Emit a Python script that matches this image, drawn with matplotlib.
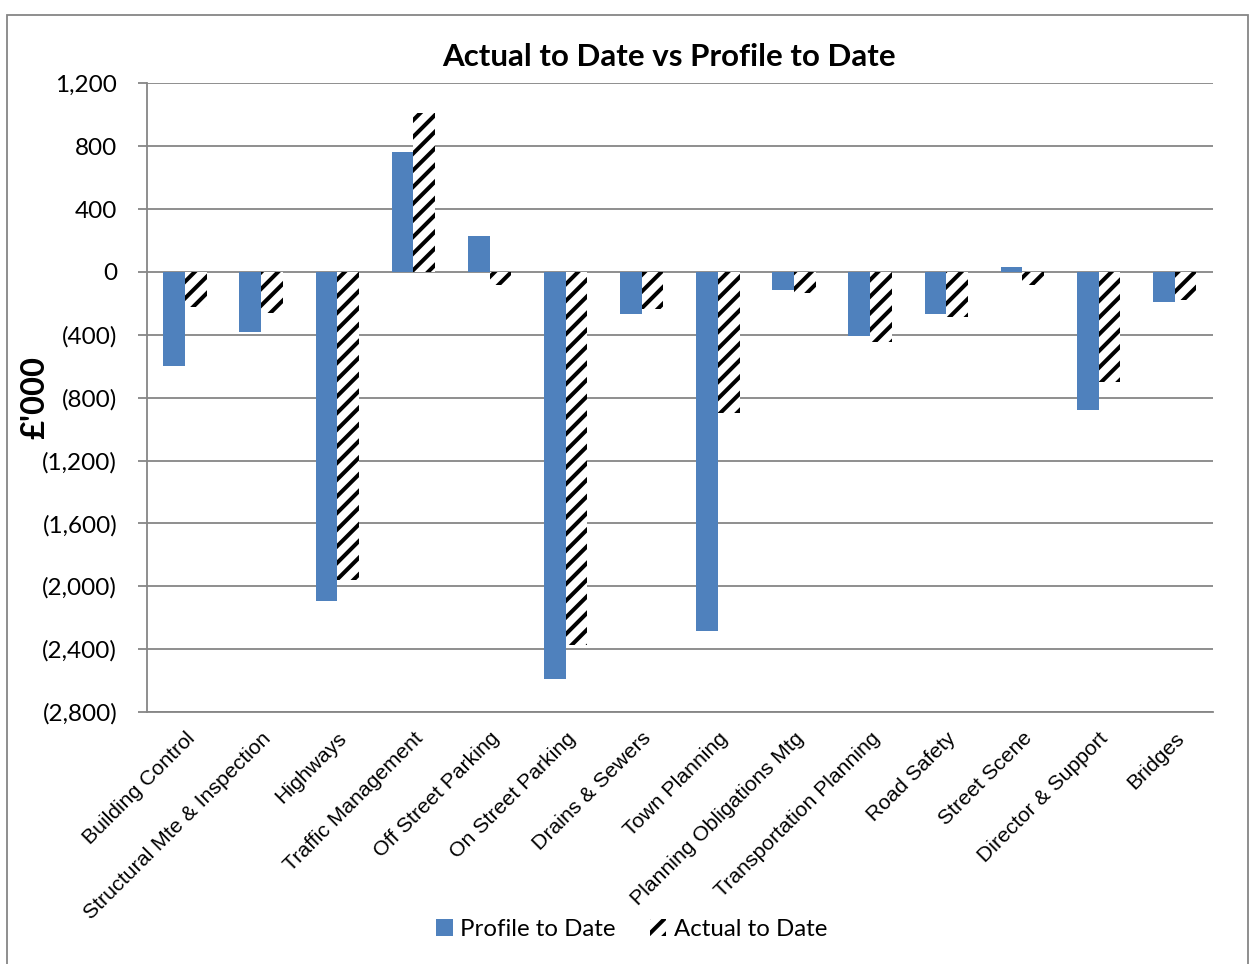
import matplotlib

matplotlib.use("Agg")
import matplotlib.pyplot as plt
import numpy as np
from matplotlib.patches import Rectangle
from matplotlib.ticker import FuncFormatter, MultipleLocator

# values in £'000
categories = [
    "Building Control",
    "Structural Mte & Inspection",
    "Highways",
    "Traffic Management",
    "Off Street Parking",
    "On Street Parking",
    "Drains & Sewers",
    "Town Planning",
    "Planning Obligations Mtg",
    "Transportation Planning",
    "Road Safety",
    "Street Scene",
    "Director & Support",
    "Bridges",
]
profile_to_date = [-598, -385, -2092, 763, 227, -2592, -265, -2285, -116, -409, -269, 32, -880, -191]
actual_to_date = [-226, -261, -1961, 1011, -85, -2373, -239, -900, -137, -445, -290, -85, -700, -176]

BLUE = "#4F81BD"
GREY = "#868686"

plt.rcParams["font.family"] = ["Lato", "DejaVu Sans"]
plt.rcParams["hatch.linewidth"] = 2.9

fig = plt.figure(figsize=(12.51, 9.64), dpi=100)
ax = fig.add_axes([0.1175, 0.2614, 0.8519, 0.6522])

x = np.arange(len(categories))
w = 0.285
ax.bar(x - w / 2, profile_to_date, width=w, color=BLUE, label="Profile to Date", zorder=3)
ax.bar(
    x + w / 2,
    actual_to_date,
    width=w,
    facecolor="white",
    edgecolor="black",
    linewidth=0,
    hatch="//",
    label="Actual to Date",
    zorder=3,
)

ax.set_xlim(-0.5, len(categories) - 0.5)
ax.set_ylim(-2800, 1200)
ax.yaxis.set_major_locator(MultipleLocator(400))
ax.yaxis.set_major_formatter(
    FuncFormatter(lambda v, _: f"({abs(v):,.0f})" if v < 0 else f"{v:,.0f}")
)
ax.grid(axis="y", color=GREY, lw=1.3, zorder=0)
ax.set_axisbelow(True)

for side in ("top", "right"):
    ax.spines[side].set_visible(False)
for side in ("left", "bottom"):
    ax.spines[side].set_color(GREY)
    ax.spines[side].set_linewidth(1.3)

ax.tick_params(axis="y", length=6.5, width=1.3, color=GREY, pad=15, labelsize=17.5)
ax.tick_params(axis="x", length=0, pad=12)
ax.set_xticks(x)
ax.set_xticklabels(
    categories,
    rotation=45,
    ha="right",
    va="top",
    rotation_mode="anchor",
    fontsize=15.3,
    family=["Liberation Sans", "DejaVu Sans"],
)

fig.text(0.5344, 0.9409, "Actual to Date vs Profile to Date", ha="center", va="center",
         fontsize=22.5, fontweight="bold")
fig.text(0.028, 0.588, "£'000", rotation=90, ha="center", va="center",
         fontsize=23.5, fontweight="bold")

handles, labels = ax.get_legend_handles_labels()
fig.legend(
    handles,
    labels,
    loc="center",
    bbox_to_anchor=(0.505, 0.0363),
    ncol=2,
    frameon=False,
    fontsize=17.3,
    handlelength=0.7,
    handleheight=0.7,
    handletextpad=0.3,
    columnspacing=1.4,
)

fig.patches.append(
    Rectangle((7 / 1251, -0.02), 1241 / 1251, 1.0122 - 7.5 / 964, transform=fig.transFigure,
              fill=False, edgecolor=GREY, lw=1.3)
)

fig.savefig("out.png", dpi=100)
